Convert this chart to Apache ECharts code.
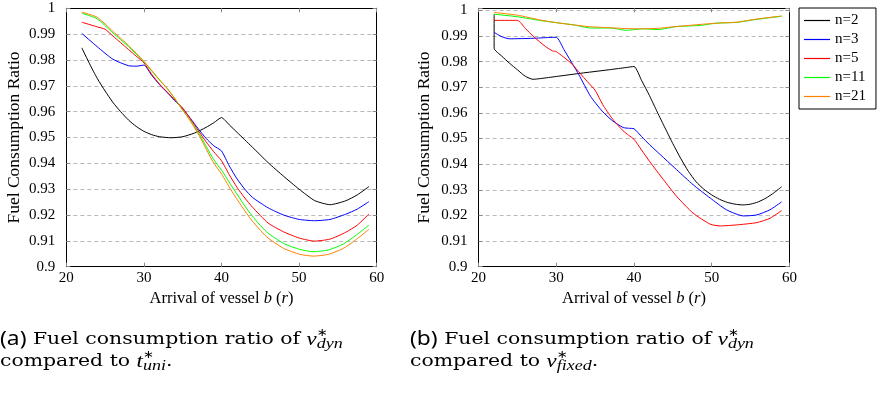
<!DOCTYPE html>
<html>
<head>
<meta charset="utf-8">
<script src="https://cdn.jsdelivr.net/npm/echarts@6.0.0/dist/echarts.min.js"></script>
<style>
html,body{margin:0;padding:0;background:#fff;}
#chart{width:878px;height:395px;}
</style>
</head>
<body>
<div id="chart"></div>
<script>
// ---------- data ----------
const seriesNames = ['n=2', 'n=3', 'n=5', 'n=11', 'n=21'];
const xTickValues = [20, 30, 40, 50, 60];

// Panel (a): v*_dyn vs t*_uni
const a_n2_x  = [22, 23, 24, 25, 26, 27, 28, 29, 30, 31, 32, 33.5, 35, 36.5, 38, 39, 40, 41, 42, 43, 44, 46, 48, 50, 52, 54, 56, 57.5, 59];
const a_n2_y  = [0.9847, 0.9785, 0.9728, 0.9680, 0.9636, 0.9600, 0.9568, 0.9543, 0.9524, 0.9511, 0.9503, 0.9499, 0.9503, 0.9517, 0.9539, 0.9557, 0.9577, 0.9549, 0.9520, 0.9491, 0.9462, 0.9403, 0.9350, 0.9300, 0.9256, 0.9240, 0.9255, 0.9278, 0.9310];
const a_n3_x  = [22, 24, 26, 28, 29, 30, 31, 32, 33, 34, 35, 36, 37, 38, 39, 40, 41, 42, 43, 44, 46, 48, 50, 52, 54, 56, 57.5, 59];
const a_n3_y  = [0.9903, 0.9851, 0.9803, 0.9778, 0.9776, 0.9780, 0.9741, 0.9705, 0.9674, 0.9642, 0.9611, 0.9574, 0.9534, 0.9497, 0.9468, 0.9448, 0.9390, 0.9340, 0.9300, 0.9268, 0.9228, 0.9200, 0.9183, 0.9178, 0.9183, 0.9203, 0.9223, 0.9252];
const a_n5_x  = [22, 24, 25, 26, 27, 28, 29, 30, 31, 32, 33, 34, 35, 36, 37, 38, 39, 40, 41, 42, 43, 44, 46, 48, 50, 52, 54, 56, 57.5, 59];
const a_n5_y  = [0.9946, 0.9928, 0.9919, 0.9893, 0.9867, 0.9841, 0.9815, 0.9789, 0.9745, 0.9707, 0.9676, 0.9645, 0.9614, 0.9572, 0.9527, 0.9484, 0.9445, 0.9410, 0.9356, 0.9307, 0.9266, 0.9230, 0.9169, 0.9135, 0.9111, 0.9099, 0.9107, 0.9133, 0.9161, 0.9204];
const a_n11_x = [22, 24, 26, 28, 30, 32, 33, 34, 35, 36, 37.2, 38.9, 40, 41.5, 43.7, 45.8, 48, 50.1, 51.8, 53.8, 55.7, 57.4, 59];
const a_n11_y = [0.9981, 0.9959, 0.9905, 0.9852, 0.9793, 0.9722, 0.9690, 0.9650, 0.9606, 0.9565, 0.9510, 0.9419, 0.9374, 0.9303, 0.9206, 0.9135, 0.9090, 0.9067, 0.9058, 0.9065, 0.9088, 0.9123, 0.9161];
const a_n21_x = [22, 24, 26, 28, 30, 32, 33, 34, 35, 36, 37.2, 38.9, 40, 41.5, 43.7, 45.8, 48, 50.1, 51.8, 53.8, 55.7, 57.4, 59];
const a_n21_y = [0.9985, 0.9965, 0.9911, 0.9857, 0.9795, 0.9724, 0.9690, 0.9650, 0.9606, 0.9563, 0.9503, 0.9406, 0.9359, 0.9284, 0.9187, 0.9116, 0.9071, 0.9048, 0.9041, 0.9048, 0.9071, 0.9106, 0.9145];

// Panel (b): v*_dyn vs v*_fixed
const b_n2_x  = [22, 22, 23, 24, 25, 26, 27, 28, 30, 33.5, 37, 39, 40, 41, 42, 43, 44, 45, 46, 47, 48, 49, 50, 51, 52, 53, 54, 55, 56, 57, 58, 59];
const b_n2_y  = [0.9985, 0.9852, 0.9821, 0.9793, 0.9768, 0.9743, 0.9731, 0.9734, 0.9742, 0.9756, 0.9769, 0.9777, 0.9781, 0.9725, 0.9667, 0.9603, 0.9541, 0.9480, 0.9423, 0.9372, 0.9331, 0.9302, 0.9280, 0.9263, 0.9251, 0.9244, 0.9241, 0.9244, 0.9253, 0.9268, 0.9288, 0.9312];
const b_n3_x  = [22, 23, 24, 27, 29, 30, 31, 32.9, 34.4, 35.9, 37.2, 38.6, 39.3, 40, 41, 42, 44, 45.5, 47.6, 49.8, 51.9, 54.1, 55.8, 57.5, 59];
const b_n3_y  = [0.9914, 0.9897, 0.9889, 0.9891, 0.9894, 0.9895, 0.9846, 0.9749, 0.9665, 0.9607, 0.9570, 0.9543, 0.9540, 0.9538, 0.9507, 0.9476, 0.9420, 0.9378, 0.9320, 0.9268, 0.9222, 0.9198, 0.9202, 0.9222, 0.9253];
const b_n5_x  = [22, 25, 26, 27.1, 28.6, 29.5, 30, 31.9, 33.1, 34, 35, 35.5, 36.1, 37.4, 38.6, 39.3, 40, 41, 42, 43.8, 45.5, 47.6, 49.8, 51.1, 53.2, 55.8, 57.5, 59];
const b_n5_y  = [0.9961, 0.9961, 0.9930, 0.9897, 0.9859, 0.9842, 0.9839, 0.9794, 0.9753, 0.9722, 0.9688, 0.9660, 0.9626, 0.9570, 0.9530, 0.9513, 0.9497, 0.9454, 0.9411, 0.9339, 0.9274, 0.9209, 0.9166, 0.9159, 0.9163, 0.9172, 0.9189, 0.9219];
const b_n11_x = [22, 25, 28, 30, 32.3, 34.4, 37, 39, 41.2, 43.1, 45.5, 48.5, 50.6, 53.2, 55.8, 59];
const b_n11_y = [0.9985, 0.9975, 0.9960, 0.9952, 0.9943, 0.9931, 0.9931, 0.9922, 0.9928, 0.9925, 0.9937, 0.9941, 0.9950, 0.9953, 0.9965, 0.9977];
const b_n21_x = [22, 25, 28, 30, 32.3, 34.4, 37, 39, 41.2, 43.1, 45.5, 48.5, 50.6, 53.2, 55.8, 59];
const b_n21_y = [0.9992, 0.9981, 0.9962, 0.9952, 0.9943, 0.9936, 0.9932, 0.9929, 0.9928, 0.9930, 0.9937, 0.9945, 0.9950, 0.9954, 0.9966, 0.9978];

// ---------- styling / layout ----------
const colors = ['#000000', '#0000ff', '#ff0000', '#00ff00', '#ff8000'];
const SERIF = "'Liberation Serif', 'Times New Roman', serif";

function zip(xs, ys) { return xs.map((x, i) => [x, ys[i]]); }

const panelA = [[a_n2_x, a_n2_y], [a_n3_x, a_n3_y], [a_n5_x, a_n5_y], [a_n11_x, a_n11_y], [a_n21_x, a_n21_y]];
const panelB = [[b_n2_x, b_n2_y], [b_n3_x, b_n3_y], [b_n5_x, b_n5_y], [b_n11_x, b_n11_y], [b_n21_x, b_n21_y]];

function yFmt(v) {
  const k = Math.round(v * 100);
  if (Math.abs(v * 100 - k) > 1e-4) return '';
  return String(k / 100);
}

const tickStyle = { show: true, inside: true, length: 4, lineStyle: { color: '#8a8a8a', width: 1 } };
const boxLine = { show: true, onZero: false, lineStyle: { color: '#000', width: 1 } };

function xAxes(g) {
  return [
    {
      type: 'value', gridIndex: g, min: xTickValues[0], max: xTickValues[xTickValues.length - 1], interval: 10,
      position: 'bottom', axisLine: boxLine, axisTick: tickStyle,
      axisLabel: { margin: 4, fontFamily: SERIF, fontSize: 15, color: '#000' },
      splitLine: { show: false },
      name: '{r|Arrival of vessel }{i|b}{r| (}{i|r}{r|)}', nameLocation: 'middle', nameGap: 22,
      nameTextStyle: {
        rich: {
          r: { fontFamily: SERIF, fontSize: 16.5, color: '#000' },
          i: { fontFamily: SERIF, fontStyle: 'italic', fontSize: 16.5, color: '#000' }
        }
      }
    },
    {
      type: 'value', gridIndex: g, min: xTickValues[0], max: xTickValues[xTickValues.length - 1], interval: 10,
      position: 'top', axisLine: boxLine, axisTick: tickStyle,
      axisLabel: { show: false }, splitLine: { show: false }
    }
  ];
}

function yAxes(g, ymax, gap) {
  return [
    {
      type: 'value', gridIndex: g, min: 0.9, max: ymax, interval: 0.01, position: 'left',
      axisLine: boxLine, axisTick: tickStyle,
      axisLabel: { margin: 11, fontFamily: SERIF, fontSize: 15, color: '#000', formatter: yFmt, showMaxLabel: true, showMinLabel: true },
      splitLine: { show: true, lineStyle: { type: [4, 3], color: '#b9b9b9', width: 1 } },
      name: 'Fuel Consumption Ratio', nameLocation: 'middle', nameGap: gap,
      nameTextStyle: { fontFamily: SERIF, fontSize: 17.5, color: '#000' }
    },
    {
      type: 'value', gridIndex: g, min: 0.9, max: ymax, interval: 0.01, position: 'right',
      axisLine: boxLine, axisTick: tickStyle,
      axisLabel: { show: false }, splitLine: { show: false }
    }
  ];
}

const series = [];
[panelA, panelB].forEach((panel, p) => {
  panel.forEach((xy, i) => {
    series.push({
      type: 'line', name: seriesNames[i],
      xAxisIndex: p * 2, yAxisIndex: p * 2,
      data: zip(xy[0], xy[1]),
      symbol: 'none', smooth: 0.2,
      lineStyle: { color: colors[i], width: 1 },
      itemStyle: { color: colors[i] },
      animation: false, z: 3 + i
    });
  });
});

const capT = { fontFamily: "'DejaVu Serif', serif", fontSize: 17, color: '#7a7a7a', lineHeight: 24 };
const capRich = {
  lab: { fontFamily: "'Noto Sans', sans-serif", fontSize: 19, color: '#111', lineHeight: 24 },
  t: capT,
  m: { fontFamily: SERIF, fontStyle: 'italic', fontSize: 19, color: '#8a8a8a', lineHeight: 24 },
  sp: { fontFamily: "'DejaVu Sans', sans-serif", fontSize: 11, color: '#8a8a8a', lineHeight: 12, verticalAlign: 'top', width: 0 },
  sb: { fontFamily: SERIF, fontStyle: 'italic', fontSize: 15, color: '#8a8a8a', lineHeight: 14, verticalAlign: 'bottom' }
};
function caption(x, y, text) {
  return { type: 'text', x: x, y: y, scaleX: 1.2, z: 10, silent: true,
    style: { text: text, rich: capRich, align: 'left', verticalAlign: 'top' } };
}

const option = {
  backgroundColor: '#fff',
  animation: false,
  grid: [
    { left: 66.3, top: 8.3, width: 310.4, height: 258.4, containLabel: false },
    { left: 478.6, top: 8.3, width: 310.8, height: 258.4, containLabel: false }
  ],
  xAxis: [...xAxes(0), ...xAxes(1)],
  yAxis: [...yAxes(0, 1, 43), ...yAxes(1, 1.0008, 45)],
  legend: {
    show: true, orient: 'vertical', left: 799, top: 8,
    padding: [3, 10, 3, 5], itemWidth: 26, itemHeight: 1.2, itemGap: 0,
    icon: 'rect',
    borderColor: '#000', borderWidth: 1, borderRadius: 0, backgroundColor: '#fff',
    textStyle: { fontFamily: SERIF, fontSize: 15, color: '#000', lineHeight: 19 },
    data: seriesNames, selectedMode: false
  },
  graphic: [
    caption(0, 328, '{lab|(a)}{t| Fuel consumption ratio of }{m|v}{sp|∗}{sb|dyn}'),
    caption(0, 350, '{t|compared to }{m|t}{sp|∗}{sb|uni}{t|.}'),
    caption(410, 328, '{lab|(b)}{t| Fuel consumption ratio of }{m|v}{sp|∗}{sb|dyn}'),
    caption(410, 350, '{t|compared to }{m|v}{sp|∗}{sb|fixed}{t|.}')
  ],
  series: series
};

const chart = echarts.init(document.getElementById('chart'), null, { renderer: 'canvas' });
chart.setOption(option);
</script>
</body>
</html>
